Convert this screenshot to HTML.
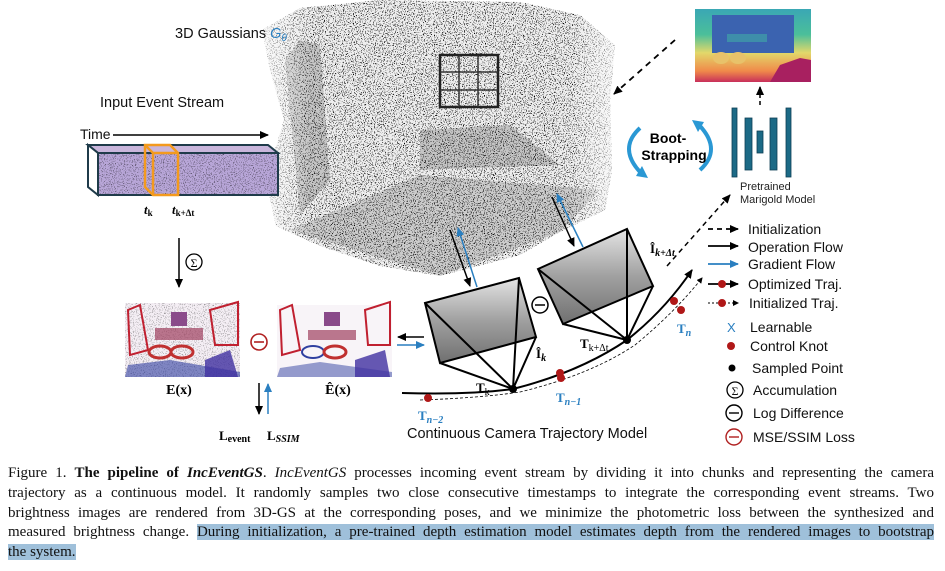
<!DOCTYPE html>
<html><head><meta charset="utf-8">
<style>
html,body{margin:0;padding:0;background:#fff;width:945px;height:571px;overflow:hidden}
svg{position:absolute;left:0;top:0}
#cap{position:absolute;left:8px;top:464px;width:926px;font-family:"Liberation Serif",serif;font-size:15px;line-height:19.8px;color:#111}
#cap div{white-space:nowrap;text-align:justify;text-align-last:justify}
#cap div.last{text-align-last:left}
.hl{background:#9fc0da}
</style></head><body>
<svg width="945" height="460" viewBox="0 0 945 460" font-family="Liberation Sans, DejaVu Sans, sans-serif">
<defs>
<filter id="speck" x="0" y="0" width="100%" height="100%">
<feTurbulence type="fractalNoise" baseFrequency="0.9" numOctaves="2" seed="3" result="n"/>
<feColorMatrix in="n" type="matrix" values="0 0 0 0 0  0 0 0 0 0  0 0 0 0 0  9 0 0 0 -5.2" result="a"/>
<feComposite in="a" in2="SourceGraphic" operator="in"/>
</filter>
<clipPath id="cloudclip"><path d="M262,30 L300,8 L380,0 L520,2 L580,15 L615,45 L610,100 L612,170 L605,210 L560,232 L520,255 L440,276 L380,266 L320,246 L276,226 L266,180 L284,120 L270,70 Z"/></clipPath>
<linearGradient id="depth" x1="0" y1="0" x2="0" y2="1">
<stop offset="0" stop-color="#3aa7b5"/><stop offset="0.35" stop-color="#4bbf9a"/><stop offset="0.6" stop-color="#e2d86a"/><stop offset="0.85" stop-color="#f08a4a"/><stop offset="1" stop-color="#c8305a"/></linearGradient>
<linearGradient id="gray1" x1="0" y1="0" x2="0" y2="1"><stop offset="0" stop-color="#e4e4e4"/><stop offset="0.5" stop-color="#a0a0a0"/><stop offset="1" stop-color="#707070"/></linearGradient>
<linearGradient id="fadeL" x1="0" y1="0" x2="1" y2="0"><stop offset="0" stop-color="#fff" stop-opacity="0.8"/><stop offset="0.15" stop-color="#fff" stop-opacity="0"/><stop offset="0.85" stop-color="#fff" stop-opacity="0"/><stop offset="1" stop-color="#fff" stop-opacity="0.8"/></linearGradient>
<marker id="ah" markerUnits="userSpaceOnUse" markerWidth="9" markerHeight="8" refX="8" refY="4" orient="auto"><path d="M0,0 L9,4 L0,8 Z" fill="#000"/></marker>
<marker id="ahb" markerUnits="userSpaceOnUse" markerWidth="9" markerHeight="8" refX="8" refY="4" orient="auto"><path d="M0,0 L9,4 L0,8 Z" fill="#2a7fc0"/></marker>
<marker id="ahs" markerUnits="userSpaceOnUse" markerWidth="6" markerHeight="6" refX="5" refY="3" orient="auto"><path d="M0,0 L6,3 L0,6 Z" fill="#000"/></marker>
</defs>

<g clip-path="url(#cloudclip)">
<rect x="255" y="0" width="370" height="280" fill="#eeeeee"/>
<path d="M285,60 L300,40 L320,45 L330,180 L300,215 Z" fill="#b4b4b4" opacity="0.7"/>
<path d="M420,130 L510,125 L560,165 L420,170 Z" fill="#999" opacity="0.5"/>
<path d="M290,230 L420,175 L600,190 L560,232 L440,276 Z" fill="#aaa" opacity="0.5"/>
<rect x="255" y="0" width="370" height="280" fill="#333" filter="url(#speck)"/>
<rect x="255" y="0" width="370" height="280" fill="url(#fadeL)"/>
<rect x="440" y="55" width="58" height="52" fill="none" stroke="#222" stroke-width="2.5"/>
<path d="M459,55 V107 M478,55 V107 M440,72 H498 M440,90 H498" stroke="#333" stroke-width="1.5"/>
</g>
<text x="175" y="38" font-size="14.5" fill="#111">3D Gaussians <tspan fill="#2a7fc0" font-style="italic">G</tspan><tspan fill="#2a7fc0" font-style="italic" font-size="10" dy="3">θ</tspan></text>
<text x="100" y="107" font-size="14.5" fill="#111">Input Event Stream</text>

<text x="80" y="139" font-size="14" fill="#111">Time</text>
<line x1="113" y1="135" x2="268" y2="135" stroke="#000" stroke-width="1.5" marker-end="url(#ah)"/>
<g>
<path d="M88,145 L268,145 L278,153 L98,153 Z" fill="#c9b6dc" stroke="#1f3b4a" stroke-width="2"/>
<path d="M88,145 L98,153 L98,195 L88,187 Z" fill="#fff" stroke="#1f3b4a" stroke-width="2"/>
<rect x="98" y="153" width="180" height="42" fill="#b8a6d8" stroke="#1f3b4a" stroke-width="2"/>
<rect x="99" y="154" width="178" height="40" fill="#c03050" filter="url(#speck)" opacity="0.5"/>
</g>
<g fill="none" stroke="#f39a1e" stroke-width="2.5">
<path d="M145,145 L170,145 L178,153 L178,195 L153,195 L145,187 Z"/>
<path d="M145,145 L153,153 L178,153 M153,153 L153,195"/>
</g>
<text x="144" y="214" font-size="13" font-weight="bold" font-family="Liberation Serif,serif" font-style="italic">t<tspan font-size="9" font-style="normal" dy="2">k</tspan></text>
<text x="172" y="214" font-size="13" font-weight="bold" font-family="Liberation Serif,serif" font-style="italic">t<tspan font-size="9" font-style="normal" dy="2">k+Δt</tspan></text>

<line x1="179" y1="238" x2="179" y2="287" stroke="#000" stroke-width="1.5" marker-end="url(#ah)"/>
<g><circle cx="194" cy="262" r="8" fill="#fff" stroke="#000" stroke-width="1.3"/><text x="194" y="267" font-size="12" text-anchor="middle" font-family="Liberation Serif,serif">Σ</text></g>

<g>
<rect x="125" y="303" width="115" height="74" fill="#f4eef4"/>
<rect x="125" y="303" width="115" height="74" fill="#6030a0" filter="url(#speck)" opacity="0.35"/>
<path d="M128,310 L140,305 L148,350 L130,355 Z M210,310 L238,302 L238,345 L215,345 Z" fill="none" stroke="#c02030" stroke-width="2"/>
<rect x="171" y="312" width="16" height="14" fill="#8a4a8a"/>
<rect x="155" y="328" width="48" height="12" fill="#a04060" opacity="0.7"/>
<ellipse cx="160" cy="352" rx="11" ry="6" fill="none" stroke="#c03030" stroke-width="3"/>
<ellipse cx="182" cy="352" rx="11" ry="6" fill="none" stroke="#c03030" stroke-width="3"/>
<path d="M128,365 L170,360 L240,372 L240,377 L125,377 Z" fill="#3040a0" opacity="0.6"/>
<path d="M205,360 L230,350 L238,377 L205,377 Z" fill="#4030a0" opacity="0.8"/>
</g>
<g>
<rect x="277" y="305" width="115" height="72" fill="#f8f4f8"/>
<path d="M280,310 L292,305 L300,350 L282,355 Z M365,310 L390,302 L390,345 L368,345 Z" fill="none" stroke="#c02030" stroke-width="2"/>
<rect x="324" y="312" width="16" height="14" fill="#8a4a8a"/>
<rect x="308" y="330" width="48" height="10" fill="#a04060" opacity="0.7"/>
<ellipse cx="313" cy="352" rx="11" ry="6" fill="none" stroke="#3040a0" stroke-width="2"/>
<ellipse cx="335" cy="352" rx="11" ry="6" fill="none" stroke="#c03030" stroke-width="3"/>
<path d="M280,368 L320,362 L392,372 L392,377 L277,377 Z" fill="#3040a0" opacity="0.5"/>
<path d="M355,360 L385,350 L390,377 L355,377 Z" fill="#4030a0" opacity="0.8"/>
</g>
<g><circle cx="259" cy="342" r="8" fill="#fff" stroke="#b02020" stroke-width="1.6"/><line x1="254" y1="342" x2="264" y2="342" stroke="#b02020" stroke-width="1.6"/></g>
<text x="179" y="394" font-size="14" font-weight="bold" font-family="Liberation Serif,serif" text-anchor="middle">E(x)</text>
<text x="338" y="394" font-size="14" font-weight="bold" font-family="Liberation Serif,serif" text-anchor="middle">Ê(x)</text>
<line x1="259" y1="383" x2="259" y2="414" stroke="#000" stroke-width="1.5" marker-end="url(#ah)"/>
<line x1="268" y1="414" x2="268" y2="384" stroke="#2a7fc0" stroke-width="1.5" marker-end="url(#ahb)"/>
<text x="219" y="440" font-size="13" font-weight="bold" font-family="Liberation Serif,serif">L<tspan font-size="10" dy="2">event</tspan></text>
<text x="267" y="440" font-size="13" font-weight="bold" font-family="Liberation Serif,serif">L<tspan font-size="10" font-style="italic" dy="2">SSIM</tspan></text>

<line x1="424" y1="337" x2="398" y2="337" stroke="#000" stroke-width="1.5" marker-end="url(#ah)"/>
<line x1="397" y1="345" x2="424" y2="345" stroke="#2a7fc0" stroke-width="1.5" marker-end="url(#ahb)"/>

<path d="M402,393 Q470,395 513,389 Q580,372 627,340 Q665,310 692,270" fill="none" stroke="#000" stroke-width="2" marker-end="url(#ah)"/>
<path d="M420,400 Q480,398 520,392 Q590,375 635,345 Q675,312 702,278" fill="none" stroke="#000" stroke-width="0.8" stroke-dasharray="3,2" marker-end="url(#ahs)"/>

<g stroke="#000" stroke-width="2">
<path d="M425,303 L519,278 L536,337 L440,363 Z" fill="url(#gray1)"/>
<path d="M425,303 L513,389 M519,278 L513,389 M536,337 L513,389 M440,363 L513,389" fill="none"/>
</g>
<g stroke="#000" stroke-width="2">
<path d="M538,269 L627,229 L653,286 L563,324 Z" fill="url(#gray1)"/>
<path d="M538,269 L627,340 M627,229 L627,340 M653,286 L627,340 M563,324 L627,340" fill="none"/>
</g>
<g><circle cx="540" cy="305" r="8" fill="#fff" stroke="#000" stroke-width="1.5"/><line x1="535" y1="305" x2="545" y2="305" stroke="#000" stroke-width="1.5"/></g>
<line x1="450" y1="230" x2="470" y2="286" stroke="#000" stroke-width="1.5" marker-end="url(#ah)"/>
<line x1="477" y1="287" x2="458" y2="228" stroke="#2a7fc0" stroke-width="1.5" marker-end="url(#ahb)"/>
<line x1="552" y1="197" x2="574" y2="246" stroke="#000" stroke-width="1.5" marker-end="url(#ah)"/>
<line x1="583" y1="247" x2="557" y2="194" stroke="#2a7fc0" stroke-width="1.5" marker-end="url(#ahb)"/>

<circle cx="513" cy="389" r="4" fill="#000"/>
<circle cx="627" cy="340" r="4" fill="#000"/>
<g fill="#b01818">
<circle cx="428" cy="398" r="4"/><circle cx="560" cy="373" r="4"/><circle cx="561" cy="378" r="4"/><circle cx="674" cy="301" r="4"/><circle cx="681" cy="310" r="4"/>
</g>
<g font-family="Liberation Serif,serif" font-weight="bold" font-size="13">
<text x="418" y="420" fill="#2a7fc0">T<tspan font-size="10" font-style="italic" dy="3">n−2</tspan></text>
<text x="556" y="402" fill="#2a7fc0">T<tspan font-size="10" font-style="italic" dy="3">n−1</tspan></text>
<text x="677" y="333" fill="#2a7fc0">T<tspan font-size="10" font-style="italic" dy="3">n</tspan></text>
<text x="476" y="392">T<tspan font-size="10" font-weight="normal" dy="3">k</tspan></text>
<text x="580" y="348">T<tspan font-size="10" font-weight="normal" dy="3">k+Δt</tspan></text>
<text x="536" y="358">Î<tspan font-size="10" font-style="italic" dy="3">k</tspan></text>
<text x="650" y="253">Î<tspan font-size="10" font-style="italic" dy="3">k+Δt</tspan></text>
</g>
<text x="407" y="438" font-size="14.5" fill="#111">Continuous Camera Trajectory Model</text>

<line x1="667" y1="266" x2="730" y2="195" stroke="#000" stroke-width="1.5" stroke-dasharray="5,4" marker-end="url(#ah)"/>
<line x1="675" y1="40" x2="614" y2="94" stroke="#000" stroke-width="1.8" stroke-dasharray="6,5" marker-end="url(#ah)"/>

<g>
<rect x="695" y="9" width="116" height="73" fill="url(#depth)"/>
<rect x="712" y="15" width="82" height="38" fill="#3b63b0"/>
<rect x="727" y="34" width="40" height="8" fill="#3e8eaa"/>
<ellipse cx="721" cy="58" rx="8" ry="6" fill="#e8c26a"/><ellipse cx="738" cy="58" rx="8" ry="6" fill="#e8c26a"/>
<path d="M770,82 L780,65 L800,58 L811,60 L811,82 Z" fill="#a82060"/>
</g>
<line x1="760" y1="105" x2="760" y2="87" stroke="#000" stroke-width="1.5" stroke-dasharray="4,3" marker-end="url(#ah)"/>
<g fill="#1c6a86" stroke="#0e3f55" stroke-width="0.8">
<rect x="732" y="108" width="5" height="69"/><rect x="745" y="118" width="7" height="52"/><rect x="757" y="131" width="6" height="22"/><rect x="770" y="118" width="7" height="52"/><rect x="786" y="108" width="5" height="69"/>
</g>
<text x="740" y="190" font-size="11" fill="#222">Pretrained</text>
<text x="740" y="203" font-size="11" fill="#222">Marigold Model</text>
<g fill="none" stroke="#2a98d4" stroke-width="4">
<path d="M640,128 Q618,148 640,172"/><path d="M636,176 L648,178 L642,166 Z" fill="#2a98d4" stroke="none"/>
<path d="M700,170 Q722,150 700,126"/><path d="M704,122 L692,120 L698,132 Z" fill="#2a98d4" stroke="none"/>
</g>
<text x="668" y="143" font-size="14" font-weight="bold" text-anchor="middle">Boot-</text>
<text x="674" y="160" font-size="14" font-weight="bold" text-anchor="middle">Strapping</text>

<g font-size="14" fill="#111">
<g><line x1="708" y1="229" x2="738" y2="229" stroke="#000" stroke-width="1.8" stroke-dasharray="5,4" marker-end="url(#ah)"/><text x="748" y="234">Initialization</text></g>
<g><line x1="708" y1="246" x2="738" y2="246" stroke="#000" stroke-width="1.8" marker-end="url(#ah)"/><text x="748" y="252">Operation Flow</text></g>
<g><line x1="708" y1="264" x2="738" y2="264" stroke="#2a7fc0" stroke-width="1.8" marker-end="url(#ahb)"/><text x="748" y="269">Gradient Flow</text></g>
<g><line x1="708" y1="284" x2="738" y2="284" stroke="#000" stroke-width="1.8" marker-end="url(#ah)"/><circle cx="722" cy="284" r="4" fill="#b01818"/><text x="748" y="289">Optimized Traj.</text></g>
<g><line x1="708" y1="303" x2="738" y2="303" stroke="#000" stroke-width="0.9" stroke-dasharray="2,2" marker-end="url(#ahs)"/><circle cx="722" cy="303" r="4" fill="#b01818"/><text x="749" y="308">Initialized Traj.</text></g>
<g><text x="727" y="332" fill="#2a7fc0" font-size="13">X</text><text x="750" y="332">Learnable</text></g>
<g><circle cx="731" cy="346" r="4" fill="#b01818"/><text x="750" y="351">Control Knot</text></g>
<g><circle cx="732" cy="368" r="3.5" fill="#000"/><text x="752" y="373">Sampled Point</text></g>
<g><circle cx="735" cy="390" r="8" fill="none" stroke="#000" stroke-width="1.3"/><text x="735" y="395" font-size="12" text-anchor="middle" font-family="Liberation Serif,serif">Σ</text><text x="753" y="395">Accumulation</text></g>
<g><circle cx="734" cy="413" r="8" fill="none" stroke="#000" stroke-width="1.4"/><line x1="729" y1="413" x2="739" y2="413" stroke="#000" stroke-width="1.4"/><text x="753" y="418">Log Difference</text></g>
<g><circle cx="734" cy="437" r="8" fill="none" stroke="#b02020" stroke-width="1.4"/><line x1="729" y1="437" x2="739" y2="437" stroke="#b02020" stroke-width="1.4"/><text x="753" y="442">MSE/SSIM Loss</text></g>
</g>
</svg>

<div id="cap">
<div>Figure 1. <b>The pipeline of <i>IncEventGS</i></b>. <i>IncEventGS</i> processes incoming event stream by dividing it into chunks and representing the camera</div>
<div>trajectory as a continuous model. It randomly samples two close consecutive timestamps to integrate the corresponding event streams. Two</div>
<div>brightness images are rendered from 3D-GS at the corresponding poses, and we minimize the photometric loss between the synthesized and</div>
<div>measured brightness change. <span class="hl">During initialization, a pre-trained depth estimation model estimates depth from the rendered images to bootstrap</span></div>
<div class="last"><span class="hl">the system.</span></div>
</div>
</body></html>
